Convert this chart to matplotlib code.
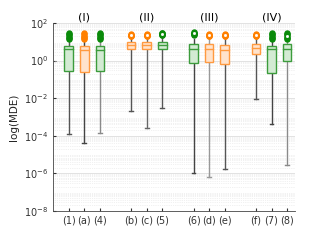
import numpy as np
import matplotlib
matplotlib.use('Agg')
import matplotlib.pyplot as plt
from matplotlib.ticker import LogLocator, NullFormatter

# Box statistics, in log10 units
labels = ['(1)', '(a)', '(4)', '(b)', '(c)', '(5)', '(6)', '(d)', '(e)', '(f)', '(7)', '(8)']
positions = [1, 2, 3, 5, 6, 7, 9, 10, 11, 13, 14, 15]
colors = ['g', 'o', 'g', 'o', 'o', 'g', 'g', 'o', 'o', 'o', 'g', 'g']
q1 = [-0.55, -0.60, -0.54, 0.60, 0.60, 0.60, -0.14, -0.09, -0.20, 0.35, -0.68, 0.00]
med = [0.62, 0.56, 0.57, 0.83, 0.83, 0.82, 0.60, 0.60, 0.56, 0.69, 0.60, 0.60]
q3 = [0.78, 0.78, 0.78, 0.97, 0.97, 1.00, 0.87, 0.90, 0.85, 0.90, 0.79, 0.87]
wlo = [-3.89, -4.38, -3.83, -2.68, -3.59, -2.52, -5.98, -6.20, -5.78, -2.03, -3.36, -5.54]
whi = [1.10, 1.10, 1.10, 1.20, 1.20, 1.20, 1.15, 1.15, 1.15, 1.15, 1.10, 1.10]
fly_lo = [1.15, 1.15, 1.15, 1.30, 1.30, 1.35, 1.38, 1.30, 1.30, 1.30, 1.15, 1.15]
fly_hi = [1.47, 1.45, 1.47, 1.40, 1.40, 1.47, 1.50, 1.40, 1.40, 1.40, 1.47, 1.47]
hollow = [False, False, False, True, True, True, True, True, True, True, False, True]
whisker_col = ['#555555', '#444444', '#8a8a8a', '#555555', '#666666', '#555555',
               '#444444', '#999999', '#555555', '#555555', '#444444', '#8a8a8a']
groups = ['(I)', '(II)', '(III)', '(IV)']
group_pos = [2, 6, 10, 14]

face = {'g': '#d3ebd3', 'o': '#ffe3cc'}
edge = {'g': '#3c9c3c', 'o': '#ff9a40'}
dot = {'g': '#0a8a0a', 'o': '#ff8000'}

fig = plt.figure(figsize=(3.22, 2.44), dpi=100)
ax = fig.add_axes([0.165, 0.135, 0.751, 0.771])

for i, p in enumerate(positions):
    c = colors[i]
    ax.plot([p, p], [10 ** wlo[i], 10 ** q1[i]], color=whisker_col[i], lw=1.0, zorder=2)
    ax.plot([p, p], [10 ** q3[i], 10 ** whi[i]], color=whisker_col[i], lw=1.0, zorder=2)
    ax.plot([p - 0.12, p + 0.12], [10 ** wlo[i]] * 2, color=whisker_col[i], lw=1.0, zorder=2)
    ax.bar(p, 10 ** q3[i] - 10 ** q1[i], bottom=10 ** q1[i], width=0.55,
           color=face[c], edgecolor=edge[c], lw=1.0, zorder=3)
    ax.plot([p - 0.275, p + 0.275], [10 ** med[i]] * 2, color=edge[c], lw=1.0, zorder=4)
    fl = np.linspace(fly_lo[i], fly_hi[i], 6)
    ax.plot([p] * len(fl), 10 ** fl, 'o', ms=3.6, color=dot[c], zorder=5)
    if hollow[i]:
        ax.plot(p, 10 ** ((fly_lo[i] + fly_hi[i]) / 2), 's', ms=1.0, color='white', zorder=6)

ax.set_yscale('log')
ax.set_ylim(1e-8, 1e2)
ax.set_xlim(0, 15.5)
ax.set_xticks(positions)
ax.set_xticklabels(labels)
ax.set_yticks([1e-8, 1e-6, 1e-4, 1e-2, 1e0, 1e2])
ax.yaxis.set_minor_locator(LogLocator(base=10, subs=np.arange(2, 10), numticks=30))
ax.yaxis.set_minor_formatter(NullFormatter())
ax.grid(True, axis='y', which='major', color='#dddddd', lw=0.6)
ax.grid(True, axis='y', which='minor', color='#e3e3e3', lw=0.5, ls=':')
ax.set_axisbelow(True)
for s in ['top', 'right']:
    ax.spines[s].set_visible(False)
for s in ['left', 'bottom']:
    ax.spines[s].set_color('#444444')
    ax.spines[s].set_linewidth(0.6)
ax.tick_params(axis='both', which='both', direction='in', labelsize=7, colors='#333333', length=2.5)
ax.tick_params(axis='y', which='minor', length=0)
ax.set_ylabel('log(MDE)', fontsize=7.5, color='#222222')

for g, gp in zip(groups, group_pos):
    ax.text(gp, 1.05e2, g, ha='center', va='bottom', fontsize=8)

fig.savefig('out.png', dpi=100)
